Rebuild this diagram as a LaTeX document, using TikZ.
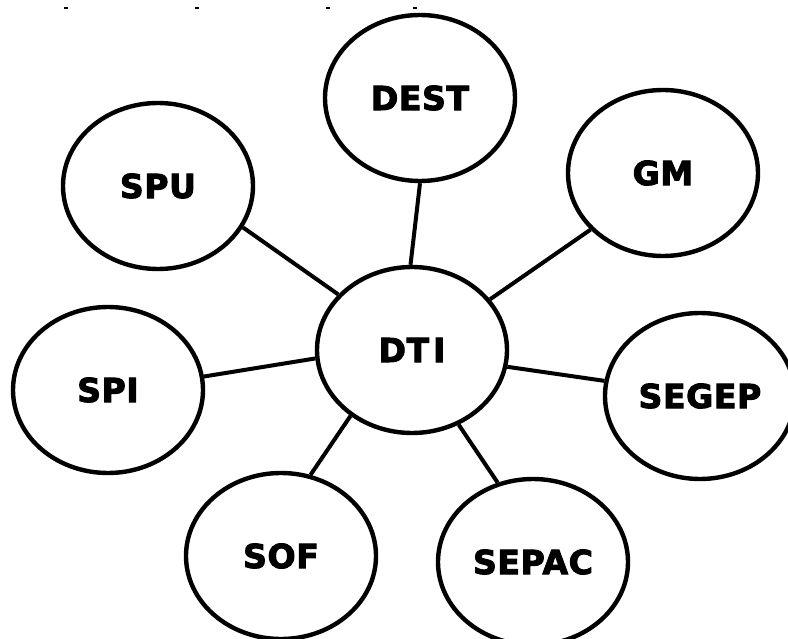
\documentclass[tikz,border=0pt]{standalone}
\usepackage{fontspec}
\setmainfont{DejaVu Sans}
\newfontfamily\unitfont{DejaVu Sans}[LetterSpace=2, BoldFeatures={FakeBold=3}]
\usetikzlibrary{shapes.geometric}

\tikzset{
  unit/.style={ellipse, draw=black, fill=white, line width=4.4pt,
    minimum width=190pt, minimum height=166pt, inner sep=0pt,
    font=\unitfont\bfseries\fontsize{33}{40}\selectfont},
  link/.style={draw=black, line width=4pt},
  tick/.style={draw=black, line width=1.3pt}
}

\begin{document}
\begin{tikzpicture}[x=1pt, y=-1pt]
  % page frame
  \fill[white] (0,0) rectangle (788,639);
  \useasboundingbox (0,0) rectangle (788,639);
  \clip (0,0) rectangle (788,639);

  % small marks along the top edge
  \coordinate (t1a) at (64,8);  \coordinate (t1b) at (68,8);
  \coordinate (t2a) at (195,8); \coordinate (t2b) at (199,8);
  \coordinate (t3a) at (326,8); \coordinate (t3b) at (330,8);
  \coordinate (t4a) at (413,8); \coordinate (t4b) at (417,8);
  \draw[tick] (t1a) -- (t1b);
  \draw[tick] (t2a) -- (t2b);
  \draw[tick] (t3a) -- (t3b);
  \draw[tick] (t4a) -- (t4b);

  % units
  \node[unit] (dti)   at (412,350) {DT\kern4pt I};
  \node[unit] (dest)  at (420,98)  {DEST};
  \node[unit] (gm)    at (663,173) {GM};
  \node[unit] (spu)   at (158,186) {SPU};
  \node[unit] (spi)   at (108,390) {SPI};
  \node[unit] (segep) at (700,396) {SEGEP};
  \node[unit] (sof)   at (281,556) {SOF};
  \node[unit] (sepac) at (533,562) {SEPAC};

  % links to the centre
  \draw[link] (dest.-90)   -- (dti.91);
  \draw[link] (spu.-26.6)  -- (dti.143.4);
  \draw[link] (gm.218.8)   -- (dti.33.3);
  \draw[link] (spi.8.5)    -- (dti.185.3);
  \draw[link] (segep.171.9) -- (dti.-10.4);
  \draw[link] (sof.70.7)   -- (dti.227.2);
  \draw[link] (sepac.114.2) -- (dti.-58.4);
\end{tikzpicture}
\end{document}
